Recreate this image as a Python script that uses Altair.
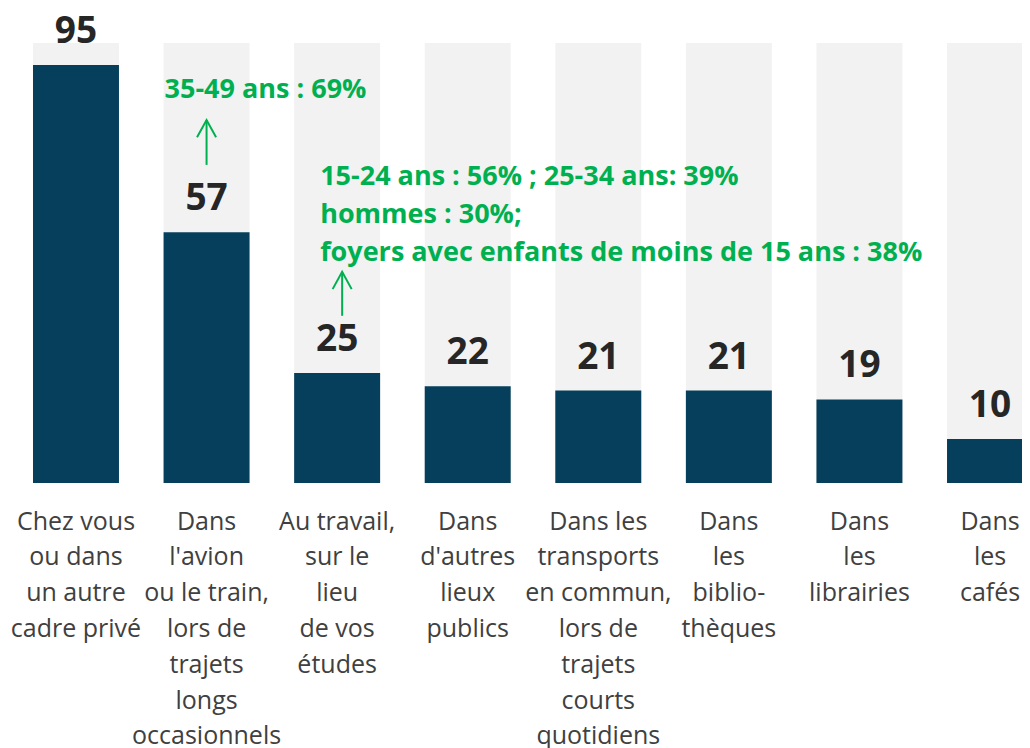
import altair as alt
import pandas as pd

# ---- data ----
categories = [
    "Chez vous|ou dans|un autre|cadre privé",
    "Dans|l'avion|ou le train,|lors de|trajets|longs|occasionnels",
    "Au travail,|sur le|lieu|de vos|études",
    "Dans|d'autres|lieux|publics",
    "Dans les|transports|en commun,|lors de|trajets|courts|quotidiens",
    "Dans|les|biblio-|thèques",
    "Dans|les|librairies",
    "Dans|les|cafés",
]
values = [95, 57, 25, 22, 21, 21, 19, 10]
scale_max = [100, 100, 100, 100, 100, 100, 100, 100]

note_cats = [categories[1], categories[2]]
note_texts = [
    "35-49 ans : 69%",
    "15-24 ans : 56% ; 25-34 ans: 39%\nhommes : 30%;\nfoyers avec enfants de moins de 15 ans : 38%",
]
note_text_y = [87.5, 67.7]
arrow_from = [72.3, 38.0]
arrow_to = [82.5, 48.0]

NAVY = "#063F5B"
GREY = "#F2F2F2"
GREEN = "#00B050"

df = pd.DataFrame({"cat": categories, "v": values, "full": scale_max})
notes1 = pd.DataFrame({"cat": [note_cats[0]], "t": [note_texts[0]], "y": [note_text_y[0]],
                       "a0": [arrow_from[0]], "a1": [arrow_to[0]]})
notes2 = pd.DataFrame({"cat": [note_cats[1]], "t": [note_texts[1]], "y": [note_text_y[1]],
                       "a0": [arrow_from[1]], "a1": [arrow_to[1]]})

xscale = alt.Scale(domain=categories, range=[0, 1050], paddingInner=0.3415, paddingOuter=0.1914)
yscale = alt.Scale(domain=[0, 100], nice=False, zero=True)

xaxis = alt.Axis(labelExpr="split(datum.label, '|')", labelAngle=0,
                 labelFont="Open Sans", labelFontSize=25, labelColor="#404040",
                 labelLineHeight=35.8, labelPadding=26, labelLimit=400,
                 labelOverlap=False, labelBound=False,
                 domain=False, ticks=False, grid=False)


def X():
    return alt.X("cat:N", sort=categories, scale=xscale, title=None, axis=xaxis)


bg = alt.Chart(df).mark_bar(color=GREY).encode(
    x=X(), y=alt.Y("full:Q", scale=yscale, axis=None))
bars = alt.Chart(df).mark_bar(color=NAVY).encode(
    x=X(), y=alt.Y("v:Q", scale=yscale, axis=None))
labels = alt.Chart(df).mark_text(font="Open Sans", fontSize=37, fontWeight="bold",
                                 color="#262626", baseline="alphabetic", dy=-22).encode(
    x=X(), y=alt.Y("v:Q", scale=yscale, axis=None), text="v:Q")


def note_layers(d, dx, xoff):
    txt = alt.Chart(d).mark_text(font="Open Sans", fontSize=27, fontWeight="bold", color=GREEN,
                                 align="left", baseline="alphabetic", dx=dx,
                                 lineBreak="\n", lineHeight=38).encode(
        x=X(), y=alt.Y("y:Q", scale=yscale, axis=None), text="t:N")
    rule = alt.Chart(d).mark_rule(color=GREEN, strokeWidth=2, xOffset=xoff).encode(
        x=X(), y=alt.Y("a0:Q", scale=yscale, axis=None), y2="a1:Q")
    head = alt.Chart(d).mark_point(shape="M-0.55,1L0,0L0.55,1", size=1200, filled=False,
                                   strokeWidth=2, color=GREEN, opacity=1, xOffset=xoff).encode(
        x=X(), y=alt.Y("a1:Q", scale=yscale, axis=None))
    return [txt, rule, head]


chart = alt.layer(bg, bars, labels, *note_layers(notes1, -42, 0), *note_layers(notes2, -17, 5)).properties(
    width=1014, height=440,
    autosize=alt.AutoSizeParams(type="none"),
    padding={"left": 0, "top": 35, "right": 0, "bottom": 275},
).configure_view(stroke=None)

chart.save("out.html", embed_options={"renderer": "svg", "actions": False})
